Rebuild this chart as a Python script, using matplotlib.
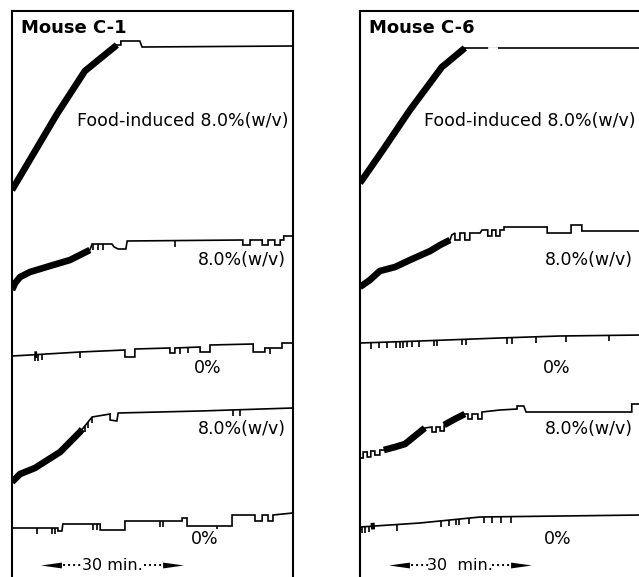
import numpy as np
import matplotlib.pyplot as plt

# cumulative records, time in minutes, pen height in steps above trace start
# ---- Mouse C-1 ----
c1_food_t = [0, 10.0, 16.2, 23.3, 24.2, 24.2, 28.4, 28.9, 62.4]
c1_food_r = [0, 76, 119, 145, 145, 149, 149, 143, 144]
c1_food_dense = [(0, 23.3)]
c1_food_pips = []

c1_a_t = [0, 0.7, 1.8, 4.0, 8.4, 12.9, 17.3, 17.8, 22.2, 22.7, 23.6, 25.3, 25.6,
          51.3, 51.3, 52.9, 52.9, 55.6, 55.6, 56.9, 56.9, 58.4, 58.4, 59.6, 59.6,
          60.4, 60.4, 62.4]
c1_a_r = [0, 7, 13, 18, 24, 30, 40, 46, 46, 43, 41, 41, 49,
          50, 45, 45, 50, 50, 45, 45, 50, 50, 45, 45, 50,
          50, 54, 54]
c1_a_dense = [(0, 17.3)]
c1_a_pips = [18.0, 19.1, 20.2, 36.2]

c1_b_t = [0, 4.0, 15.1, 25.1, 25.1, 27.3, 27.3, 35.1, 35.1, 36.2, 36.2, 41.8, 41.8,
          44.0, 44.0, 53.6, 53.6, 56.2, 56.2, 60.0, 60.0, 62.4]
c1_b_r = [0, 1, 4, 6, -1, -1, 7, 8, 3, 3, 8, 9, 4,
          4, 11, 12, 4, 4, 8, 8, 13, 13]
c1_b_dense = [(5.0, 5.6)]
c1_b_pips = [5.1, 5.8, 6.7, 15.1, 37.3, 39.1, 57.3]

c1_c_t = [0, 1.8, 5.1, 10.7, 15.1, 17.8, 21.8, 21.8, 23.3, 23.6, 41.8, 62.4]
c1_c_r = [0, 8, 14, 30, 50, 65, 68, 62, 61, 69, 71, 74]
c1_c_dense = [(0, 15.6)]
c1_c_pips = [16.2, 16.9, 17.8, 49.1, 50.7]

c1_d_t = [0, 10.2, 10.2, 11.1, 11.3, 19.6, 19.6, 25.1, 25.1, 37.8, 37.8, 38.9, 38.9,
          48.9, 48.9, 54.0, 54.0, 55.6, 55.6, 56.9, 56.9, 58.0, 58.0, 62.4]
c1_d_r = [0, 0, -3, -3, 4, 4, -2, -2, 7, 7, 10, 10, 2,
          2, 13, 13, 7, 7, 13, 13, 7, 7, 13, 15]
c1_d_dense = []
c1_d_pips = [0.1, 5.6, 8.9, 9.6, 18.0, 18.9, 32.9, 33.6, 45.6]

# ---- Mouse C-6 ----
c6_food_t = [0, 5.1, 11.1, 18.2, 19.3, 23.3, 23.3, 62.7]
c6_food_r = [0, 33, 73, 116, 120, 133, 135, 135]
c6_food_dense = [(0, 23.3)]
c6_food_pips = []
c6_food_gap = (28.7, 30.2)

c6_a_t = [0, 2.2, 4.4, 7.8, 11.1, 15.6, 17.8, 20.0, 20.4, 21.1, 21.1, 22.2, 22.2,
          23.3, 23.3, 24.4, 24.4, 26.7, 27.1, 28.4, 28.4, 29.3, 29.3, 30.2, 30.2,
          31.1, 31.1, 32.0, 32.0, 41.6, 41.6, 46.9, 46.9, 49.3, 49.3, 62.7]
c6_a_r = [0, 7, 16, 20, 27, 36, 42, 47, 52, 54, 47, 47, 54,
          54, 47, 47, 54, 54, 57, 57, 51, 51, 57, 57, 51,
          51, 57, 57, 60, 60, 54, 54, 62, 62, 56, 56]
c6_a_dense = [(0, 20.0)]
c6_a_pips = []

c6_b_t = [0, 13.3, 31.1, 44.4, 62.7]
c6_b_r = [0, 2, 5, 7, 8]
c6_b_dense = []
c6_b_pips = [2.4, 4.2, 6.0, 8.0, 8.9, 9.6, 10.4, 11.6, 13.1, 16.4, 17.1, 22.7,
             23.6, 32.7, 33.8, 39.1, 45.8, 55.3]

c6_c_t = [0, 0.7, 0.7, 1.6, 1.6, 2.4, 2.4, 3.3, 3.3, 4.4, 4.4, 5.3, 7.8, 10.0,
          12.2, 14.4, 16.0, 16.0, 16.9, 16.9, 17.8, 17.8, 18.7, 18.7, 21.1, 23.3,
          24.0, 24.0, 24.9, 24.9, 26.2, 26.2, 27.1, 27.1, 31.1, 34.9, 34.9, 36.4,
          36.9, 60.4, 60.4, 62.7]
c6_c_r = [0, 0, 6, 6, 1, 1, 7, 7, 3, 3, 8, 8, 11, 14,
          22, 30, 31, 26, 26, 31, 31, 27, 27, 33, 39, 44,
          44, 39, 39, 44, 44, 39, 39, 46, 48, 49, 52, 52,
          46, 46, 54, 54]
c6_c_dense = [(5.3, 14.4), (18.7, 23.3)]
c6_c_pips = []

c6_d_t = [0, 3.3, 13.3, 26.7, 62.7]
c6_d_r = [0, 1, 4, 10, 12]
c6_d_dense = [(2.4, 3.3)]
c6_d_pips = [0.4, 1.1, 2.0, 8.2, 18.0, 19.8, 21.3, 22.0, 24.2, 27.6, 29.3, 31.3, 33.6]

labels = ["Food-induced 8.0%(w/v)", "8.0%(w/v)", "0%", "8.0%(w/v)", "0%"]

# baseline of each trace (pen units above the bottom of the sheet)
c1_base = [387, 287, 221, 95, 49]
c6_base = [394, 290, 234, 119, 50]


def draw_trace(ax, t, r, base, dense, pips):
    t = np.array(t, dtype=float)
    y = np.array(r, dtype=float) + base
    ax.plot(t, y, color='black', lw=1.2, solid_joinstyle='miter')
    for a, b in dense:
        m = (t > a) & (t < b)
        ts = np.concatenate([[a], t[m], [b]])
        ys = np.concatenate([[np.interp(a, t, y)], y[m], [np.interp(b, t, y)]])
        ax.plot(ts, ys, color='black', lw=4.8, solid_capstyle='butt')
    if pips:
        py = np.interp(pips, t, y)
        ax.vlines(pips, py - 6, py, color='black', lw=1.2)


def scale_bar(ax, t0, t1, y, text):
    head = [(-1, 0), (1, 0.28), (1, -0.28), (-1, 0)]
    mid = (t0 + t1) / 2
    ax.plot([t0 + 3.0, mid - 7.0], [y, y], color='black', lw=1.4, ls=(0, (1, 1.6)))
    ax.plot([mid + 7.0, t1 - 3.0], [y, y], color='black', lw=1.4, ls=(0, (1, 1.6)))
    ax.plot([t0 + 1.5], [y], marker=head, ms=15, color='black', mew=0)
    ax.plot([t1 - 1.5], [y], marker=[(-x, v) for x, v in head], ms=15, color='black', mew=0)
    ax.text(mid, y, text, ha='center', va='center', fontsize=11.5)


fig = plt.figure(figsize=(6.39, 5.77), dpi=100)

panels = [
    (12, "Mouse C-1", c1_base,
     [(c1_food_t, c1_food_r, c1_food_dense, c1_food_pips),
      (c1_a_t, c1_a_r, c1_a_dense, c1_a_pips),
      (c1_b_t, c1_b_r, c1_b_dense, c1_b_pips),
      (c1_c_t, c1_c_r, c1_c_dense, c1_c_pips),
      (c1_d_t, c1_d_r, c1_d_dense, c1_d_pips)],
     [61.5, 60.9, 43.6, 60.9, 42.9], "30 min."),
    (360, "Mouse C-6", c6_base,
     [(c6_food_t, c6_food_r, c6_food_dense, c6_food_pips),
      (c6_a_t, c6_a_r, c6_a_dense, c6_a_pips),
      (c6_b_t, c6_b_r, c6_b_dense, c6_b_pips),
      (c6_c_t, c6_c_r, c6_c_dense, c6_c_pips),
      (c6_d_t, c6_d_r, c6_d_dense, c6_d_pips)],
     [61.3, 60.6, 43.8, 60.6, 44.0], "30  min."),
]
label_y = [456, 317, 209, 148, 38]

for left, title, bases, traces, label_x, bar_text in panels:
    ax = fig.add_axes([left / 639, 0, 281 / 639, 566 / 577])
    ax.set_xlim(0, 62.45)
    ax.set_ylim(0, 566)
    ax.set_xticks([])
    ax.set_yticks([])
    ax.spines['bottom'].set_visible(False)
    for s in ['left', 'right', 'top']:
        ax.spines[s].set_linewidth(1.5)

    for (t, r, dense, pips), base in zip(traces, bases):
        draw_trace(ax, t, r, base, dense, pips)

    for lab, lx, ly in zip(labels, label_x, label_y):
        ha = 'center' if lab == "0%" else 'right'
        ax.text(lx, ly, lab, ha=ha, va='center', fontsize=12.5,
                bbox=dict(facecolor='white', edgecolor='none', pad=0.5))

    ax.text(1.9, 549, title, ha='left', va='center', fontsize=13, fontweight='bold')
    scale_bar(ax, 7.2, 37.3, 12, bar_text)

# pen lift on the top C-6 record
ax.plot(c6_food_gap, [c6_base[0] + 135] * 2, color='white', lw=2)

fig.savefig('out.png', dpi=100)
